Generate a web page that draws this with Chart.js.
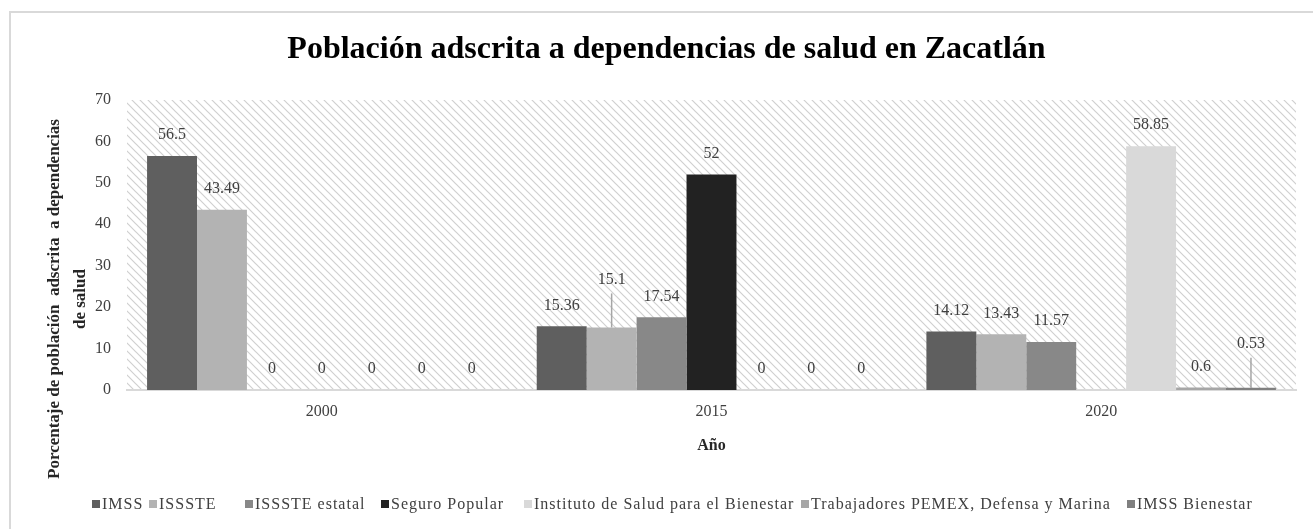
<!DOCTYPE html>
<html>
<head>
<meta charset="utf-8">
<script src="https://cdn.jsdelivr.net/npm/chart.js@4.4.0/dist/chart.umd.min.js"></script>
<style>
html,body{margin:0;padding:0;background:#ffffff;}
#wrap{width:1313px;height:529px;position:relative;}
</style>
</head>
<body>
<div id="wrap"><canvas id="c" width="1313" height="529"></canvas></div>
<script>
// ---- data ----
const categories = ['2000', '2015', '2020'];
const seriesNames = ['IMSS', 'ISSSTE', 'ISSSTE estatal', 'Seguro Popular',
  'Instituto de Salud para el Bienestar', 'Trabajadores PEMEX, Defensa y Marina', 'IMSS Bienestar'];
const imss = [56.5, 15.36, 14.12];
const issste = [43.49, 15.1, 13.43];
const issteEstatal = [0, 17.54, 11.57];
const seguroPopular = [0, 52, null];
const insabi = [0, 0, 58.85];
const pemexDefensaMarina = [0, 0, 0.6];
const imssBienestar = [0, 0, 0.53];
const yTickValues = [0, 10, 20, 30, 40, 50, 60, 70];
const titleText = 'Población adscrita a dependencias de salud en Zacatlán';
const yTitleLines = ['Porcentaje de población  adscrita  a dependencias', 'de salud'];
const xTitleText = 'Año';

// ---- styles ----
const seriesColors = ['#5f5f5f', '#b3b3b3', '#888888', '#222222', '#d9d9d9', '#a6a6a6', '#7f7f7f'];
const SERIF = "'Liberation Serif', 'Times New Roman', serif";
const seriesValues = [imss, issste, issteEstatal, seguroPopular, insabi, pemexDefensaMarina, imssBienestar];

function makeHatch() {
  const t = document.createElement('canvas');
  t.width = 8; t.height = 8;
  const g = t.getContext('2d');
  g.fillStyle = '#ffffff'; g.fillRect(0, 0, 8, 8);
  g.strokeStyle = '#d0d0d0'; g.lineWidth = 1.2;
  g.beginPath();
  g.moveTo(-1, -1); g.lineTo(9, 9);
  g.moveTo(-5, 3); g.lineTo(5, 13);
  g.moveTo(3, -5); g.lineTo(13, 5);
  g.stroke();
  return g.createPattern(t, 'repeat');
}

const backdrop = {
  id: 'backdrop',
  beforeDraw(chart) {
    const ctx = chart.ctx, a = chart.chartArea;
    ctx.save();
    ctx.fillStyle = '#ffffff';
    ctx.fillRect(0, 0, chart.width, chart.height);
    ctx.strokeStyle = '#d9d9d9'; ctx.lineWidth = 2;
    ctx.strokeRect(10, 12, chart.width + 20, chart.height + 20);
    ctx.fillStyle = makeHatch();
    ctx.fillRect(a.left, a.top, a.right - a.left, a.bottom - a.top);
    ctx.restore();
  }
};

const barLabels = {
  id: 'barLabels',
  afterDatasetsDraw(chart, args, opts) {
    const ctx = chart.ctx;
    ctx.save();
    ctx.font = '16px ' + SERIF;
    ctx.textAlign = 'center';
    ctx.textBaseline = 'middle';
    chart.data.datasets.forEach((ds, di) => {
      const meta = chart.getDatasetMeta(di);
      meta.data.forEach((bar, i) => {
        const v = ds.data[i];
        if (v === null || v === undefined) return;
        const lead = opts.leaders.find(l => l.dataset === di && l.index === i);
        const y = bar.y - opts.offset - (lead ? lead.extra : 0);
        ctx.fillStyle = '#404040';
        ctx.fillText(String(v), bar.x, y);
        if (lead) {
          ctx.strokeStyle = '#a6a6a6'; ctx.lineWidth = 1.5;
          ctx.beginPath(); ctx.moveTo(bar.x, y + 14); ctx.lineTo(bar.x, bar.y); ctx.stroke();
        }
      });
    });
    ctx.restore();
  }
};

const extras = {
  id: 'extras',
  afterDraw(chart, args, opts) {
    const ctx = chart.ctx;
    ctx.save();
    // y-axis title
    ctx.font = 'bold 17px ' + SERIF;
    ctx.fillStyle = '#262626';
    ctx.textAlign = 'center'; ctx.textBaseline = 'middle';
    yTitleLines.forEach((line, k) => {
      ctx.save();
      ctx.translate(opts.yTitleX[k], opts.yTitleY);
      ctx.rotate(-Math.PI / 2);
      ctx.fillText(line, 0, 0);
      ctx.restore();
    });
    // legend
    ctx.font = '16px ' + SERIF;
    try { ctx.letterSpacing = '1px'; } catch (e) {}
    ctx.textAlign = 'left'; ctx.textBaseline = 'middle';
    chart.data.datasets.forEach((ds, di) => {
      const x = opts.legendX[di], y = opts.legendY;
      ctx.fillStyle = ds.backgroundColor;
      ctx.fillRect(x, y - 4, 8, 8);
      ctx.fillStyle = '#404040';
      ctx.fillText(ds.label, x + 10, y + 1);
    });
    ctx.restore();
  }
};

new Chart(document.getElementById('c'), {
  type: 'bar',
  data: {
    labels: categories,
    datasets: seriesNames.map((name, i) => ({
      label: name,
      data: seriesValues[i],
      backgroundColor: seriesColors[i],
      borderWidth: 0,
      barPercentage: 1,
      categoryPercentage: 0.897
    }))
  },
  options: {
    responsive: false,
    animation: false,
    layout: { padding: { top: 0, left: 37, right: 17, bottom: 69 } },
    plugins: {
      legend: { display: false },
      tooltip: { enabled: false },
      title: {
        display: true,
        text: titleText,
        color: '#000000',
        font: { family: SERIF, size: 32, weight: 'bold', lineHeight: 1.2 },
        padding: { top: 31, bottom: 30.6 }
      },
      barLabels: { offset: 21, leaders: [{ dataset: 1, index: 1, extra: 27 }, { dataset: 6, index: 2, extra: 23 }] },
      extras: { yTitleX: [55, 81], yTitleY: 299, legendX: [92, 149, 245, 381, 524, 801, 1127], legendY: 504 }
    },
    scales: {
      x: {
        grid: { display: false, drawTicks: false },
        border: { display: true, color: '#d9d9d9', width: 2 },
        ticks: { color: '#404040', padding: 12, font: { family: SERIF, size: 16 } },
        title: {
          display: true, text: xTitleText, color: '#262626',
          font: { family: SERIF, size: 16, weight: 'bold', lineHeight: 1.2 },
          padding: { top: 0, bottom: 5 }
        },
        afterFit(scale) { scale.height = 70; }
      },
      y: {
        min: 0, max: 70,
        grid: { display: false, drawTicks: false },
        border: { display: false },
        ticks: { color: '#404040', padding: 16, font: { family: SERIF, size: 16 } },
        afterBuildTicks(scale) { scale.ticks = yTickValues.map(v => ({ value: v })); },
        afterFit(scale) { scale.width = 90; }
      }
    }
  },
  plugins: [backdrop, barLabels, extras]
});
</script>
</body>
</html>
